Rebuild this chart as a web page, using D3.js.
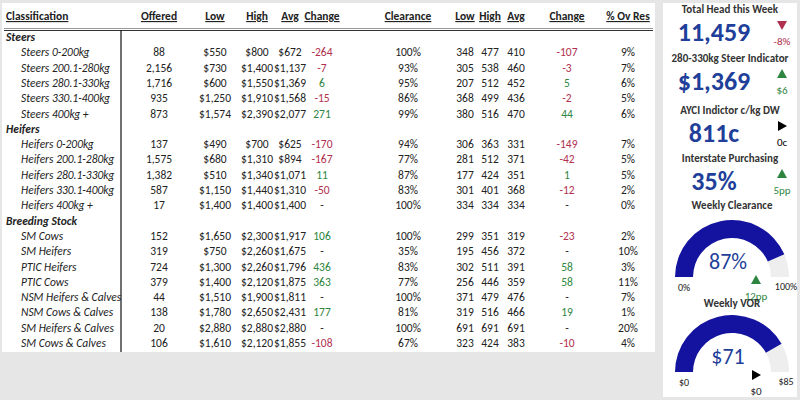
<!DOCTYPE html><html><head><meta charset="utf-8"><script src="https://cdn.jsdelivr.net/npm/d3@7"></script>
<style>body{margin:0;background:#e6e6e6}svg{font-family:Calibri,"Liberation Sans",Arial,sans-serif}</style></head><body><svg id="c" width="800" height="400"></svg>
<script>
const headers=["Classification","Offered","Low","High","Avg","Change","Clearance","Low","High","Avg","Change","% Ov Res"];
const groups=["Steers","Heifers","Breeding Stock"];
const rowNames=[["Steers 0-200kg","Steers 200.1-280kg","Steers 280.1-330kg","Steers 330.1-400kg","Steers 400kg +"],
["Heifers 0-200kg","Heifers 200.1-280kg","Heifers 280.1-330kg","Heifers 330.1-400kg","Heifers 400kg +"],
["SM Cows","SM Heifers","PTIC Heifers","PTIC Cows","NSM Heifers & Calves","NSM Cows & Calves","SM Heifers & Calves","SM Cows & Calves"]];
const offered=[88,2156,1716,935,873,137,1575,1382,587,17,152,319,724,379,44,138,20,106];
const lowD=[550,730,600,1250,1574,490,680,510,1150,1400,1650,750,1300,1400,1510,1780,2880,1610];
const highD=[800,1400,1550,1910,2390,700,1310,1340,1440,1400,2300,2260,2260,2120,1900,2650,2880,2120];
const avgD=[672,1137,1369,1568,2077,625,894,1071,1310,1400,1917,1675,1796,1875,1811,2431,2880,1855];
const changeD=[-264,-7,6,-15,271,-170,-167,11,-50,null,106,null,436,363,null,177,null,-108];
const clearance=[100,93,95,86,99,94,77,87,83,100,100,35,83,77,100,81,100,67];
const lowC=[348,305,207,368,380,306,281,177,301,334,299,195,302,256,371,319,691,323];
const highC=[477,538,512,499,516,363,512,424,401,334,351,456,511,446,479,516,691,424];
const avgC=[410,460,452,436,470,331,371,351,368,334,319,372,391,359,476,466,691,383];
const changeC=[-107,-3,5,-2,44,-149,-42,1,-12,null,-23,null,58,58,null,19,null,-10];
const ovRes=[9,7,6,5,6,7,5,5,2,0,2,10,3,11,7,1,20,4];
const kpiTitles=["Total Head this Week","280-330kg Steer Indicator","AYCI Indictor c/kg DW","Interstate Purchasing"];
const kpiValues=["11,459","$1,369","811c","35%"];
const kpiDeltas=["-8%","$6","0c","5pp"];
const kpiDir=[-1,1,0,1];
const gauges=[{title:"Weekly Clearance",value:87,max:100,label:"87%",min:"0%",maxL:"100%",delta:"12pp",dir:1},
{title:"Weekly VOR",value:71,max:85,label:"$71",min:"$0",maxL:"$85",delta:"$0",dir:0}];

const svg=d3.select("#c");
const RED="#b0304f",GREEN="#2e8540",BLUE="#1f3f9a",GBLUE="#1313a0";
svg.append("rect").attr("x",2).attr("y",3).attr("width",653).attr("height",349).attr("fill","#fff");
svg.append("rect").attr("x",663).attr("y",3).attr("width",134).attr("height",394).attr("fill","#fff");
const colX=[6,159,215,257,290,322,408,465,490,516,567,628];
headers.forEach((h,i)=>{svg.append("text").attr("x",colX[i]).attr("y",20).attr("text-anchor",i?"middle":"start")
 .attr("font-size",11.5).attr("font-weight","bold").attr("text-decoration","underline").attr("fill","#222").text(h);});
svg.append("line").attr("x1",4).attr("x2",653).attr("y1",28.5).attr("y2",28.5).attr("stroke","#999").attr("stroke-width",1);
svg.append("line").attr("x1",4).attr("x2",653).attr("y1",30.5).attr("y2",30.5).attr("stroke","#333").attr("stroke-width",1);
svg.append("line").attr("x1",121).attr("x2",121).attr("y1",30).attr("y2",352).attr("stroke","#111").attr("stroke-width",1.2);
const rows=[];let k=0;
groups.forEach((g,gi)=>{rows.push({g});rowNames[gi].forEach(n=>rows.push({n,i:k++}));});
const y=d3.scaleLinear().domain([0,rows.length-1]).range([41,347]);
const fmt=d3.format(","),dol=v=>"$"+fmt(v);
const chg=v=>v==null?"-":String(v);
rows.forEach((r,ri)=>{const yy=y(ri);
 if(r.g){svg.append("text").attr("x",6).attr("y",yy).attr("font-size",11.5).attr("font-weight","bold").attr("font-style","italic").attr("fill","#222").text(r.g);return;}
 const i=r.i;
 svg.append("text").attr("x",21).attr("y",yy).attr("font-size",11.5).attr("font-style","italic").attr("fill","#222").text(r.n);
 const vals=[fmt(offered[i]),dol(lowD[i]),dol(highD[i]),dol(avgD[i]),chg(changeD[i]),clearance[i]+"%",lowC[i],highC[i],avgC[i],chg(changeC[i]),ovRes[i]+"%"];
 const cc=[null,null,null,null,changeD[i],null,null,null,null,changeC[i],null];
 vals.forEach((v,j)=>{const c=cc[j];svg.append("text").attr("x",colX[j+1]).attr("y",yy).attr("text-anchor","middle").attr("font-size",11.5)
  .attr("fill",c==null?"#222":c<0?RED:GREEN).text(v);});
});
function tri(x,yy,dir){let p;
 if(dir>0)p=[[x-5,yy+4],[x+5,yy+4],[x,yy-5]];else if(dir<0)p=[[x-5,yy-4],[x+5,yy-4],[x,yy+5]];else p=[[x-4,yy-5],[x-4,yy+5],[x+5,yy]];
 svg.append("path").attr("d",d3.line()(p)+"Z").attr("fill",dir>0?GREEN:dir<0?RED:"#000");}
const ky=[13,62,114,162];
kpiTitles.forEach((t,i)=>{const b=ky[i];
 svg.append("text").attr("x",730).attr("y",b).attr("text-anchor","middle").attr("font-size",11).attr("font-weight","bold").attr("fill","#333").text(t);
 svg.append("text").attr("x",714).attr("y",b+28).attr("text-anchor","middle").attr("font-size",26).attr("font-weight","bold").attr("fill",BLUE).text(kpiValues[i]);
 tri(782,b+12,kpiDir[i]);
 svg.append("text").attr("x",782).attr("y",b+32).attr("text-anchor","middle").attr("font-size",11).attr("fill",kpiDir[i]>0?GREEN:kpiDir[i]<0?RED:"#000").text(kpiDeltas[i]);
});
const gy=[[209,277],[307,372]];
gauges.forEach((g,i)=>{const cx=732,cy=gy[i][1];
 svg.append("text").attr("x",cx).attr("y",gy[i][0]).attr("text-anchor","middle").attr("font-size",11).attr("font-weight","bold").attr("fill","#333").text(g.title);
 const a=d3.scaleLinear().domain([0,g.max]).range([-Math.PI/2,Math.PI/2]);
 const arc=d3.arc().innerRadius(39).outerRadius(57);
 svg.append("path").attr("transform",`translate(${cx},${cy})`).attr("d",arc({startAngle:-Math.PI/2,endAngle:Math.PI/2})).attr("fill","#eeeeee");
 svg.append("path").attr("transform",`translate(${cx},${cy})`).attr("d",arc({startAngle:-Math.PI/2,endAngle:a(g.value)})).attr("fill",GBLUE);
 svg.append("text").attr("x",cx-4).attr("y",cy-8).attr("text-anchor","middle").attr("font-size",22).attr("fill",BLUE).text(g.label);
 svg.append("text").attr("x",cx-48).attr("y",cy+14).attr("text-anchor","middle").attr("font-size",10).attr("fill","#222").text(g.min);
 svg.append("text").attr("x",cx+54).attr("y",cy+13).attr("text-anchor","middle").attr("font-size",10).attr("fill","#222").text(g.maxL);
 tri(cx+24,cy+3,g.dir);
 svg.append("text").attr("x",cx+24).attr("y",cy+23).attr("text-anchor","middle").attr("font-size",11).attr("fill",g.dir>0?GREEN:"#222").text(g.delta);
});
</script></body></html>
